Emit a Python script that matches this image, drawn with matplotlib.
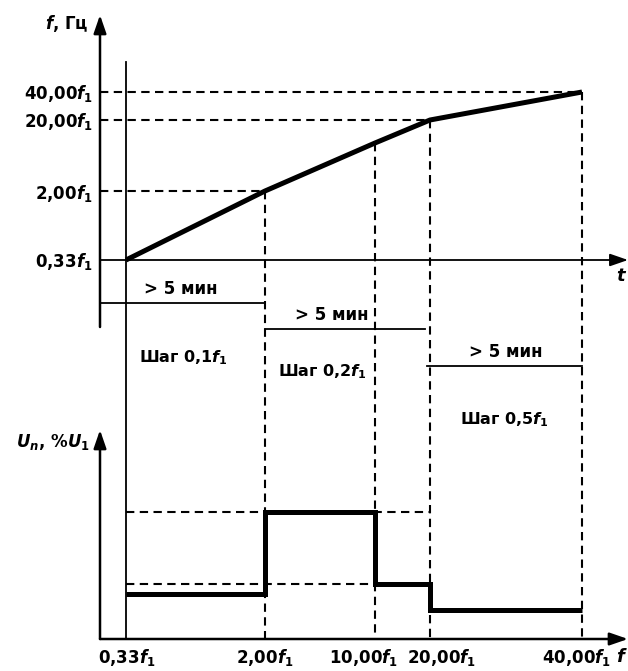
import matplotlib
matplotlib.use("Agg")
import matplotlib.pyplot as plt

plt.rcParams['font.family'] = ['DejaVu Sans']
plt.rcParams['font.weight'] = 'bold'
plt.rcParams['mathtext.fontset'] = 'custom'
plt.rcParams['mathtext.rm'] = 'DejaVu Sans:bold'
plt.rcParams['mathtext.it'] = 'DejaVu Sans:bold:italic'
plt.rcParams['mathtext.bf'] = 'DejaVu Sans:bold'

# ---------------- data (schematic units) ----------------
freq_labels = ['0,33', '2,00', '10,00', '20,00', '40,00']   # multiples of f1
freq_pos = [26, 165, 275, 330, 482]          # schematic position along t / f axis
top_levels = [0, 69, 117, 140, 168]          # ramp frequency level at each breakpoint
top_label_idx = [0, 1, 3, 4]                 # levels labelled on the f axis
step_levels = [45, 127, 55, 29]              # U_n level on each frequency interval
durations = ['> 5 мин', '> 5 мин', '> 5 мин']
step_texts = ['Шаг 0,1', 'Шаг 0,2', 'Шаг 0,5']

# ---------------- layout ----------------
W, H = 628, 671
AX_X, TOP_Y0 = 100, 260      # pixel origin of upper chart
BOT_OFF = -379               # lower chart baseline in upper-chart coordinates
FS = 12

fig = plt.figure(figsize=(W / 100, H / 100), dpi=100)
ax = fig.add_axes([0, 0, 1, 1])
ax.set_xlim(-AX_X, W - AX_X)
ax.set_ylim(TOP_Y0 - H, TOP_Y0)
ax.axis('off')

thick = 3.6
thin = 1.3
dlw = 1.5
dash = (0, (4, 2.6))

def arrow(x0, y0, x1, y1, lw=1.6):
    ax.annotate('', xy=(x1, y1), xytext=(x0, y0),
                arrowprops=dict(arrowstyle='-|>,head_length=1.1,head_width=0.38',
                                lw=lw, color='k', shrinkA=0, shrinkB=0))

def flab(v):
    return v + r'$\mathit{f}_{1}$'

# ---- upper chart ----
arrow(0, -67, 0, 245, lw=1.8)              # f axis
arrow(0, 0, W - AX_X, 0, lw=1.3)           # t axis
ax.text(-11, 236, r'$\mathit{f}$, Гц', ha='right', va='center', fontsize=FS)
ax.text(522, -16, r'$\mathit{t}$', ha='center', va='center', fontsize=FS + 1)

# thin vertical at start
ax.plot([freq_pos[0], freq_pos[0]], [198, BOT_OFF], color='k', lw=thin)

# ramp
ax.plot(freq_pos, top_levels, color='k', lw=thick, solid_capstyle='butt', solid_joinstyle='miter')

# dashed guides
for i in top_label_idx[1:]:
    ax.plot([0, freq_pos[i]], [top_levels[i], top_levels[i]], color='k', lw=dlw, linestyle=dash)
for i in range(1, 5):
    ax.plot([freq_pos[i], freq_pos[i]], [top_levels[i], BOT_OFF], color='k', lw=dlw, linestyle=dash)

for i in top_label_idx:
    ax.text(-7, top_levels[i] - 2, flab(freq_labels[i]), ha='right', va='center', fontsize=FS)

# duration bars
bars = [(0, freq_pos[1], -43), (freq_pos[1], freq_pos[3] - 5, -69), (freq_pos[3] - 3, freq_pos[4], -106)]
text_x = [81, 232, 406]
for (x0, x1, y), tx, lab in zip(bars, text_x, durations):
    ax.plot([x0, x1], [y, y], color='k', lw=thin)
    ax.text(tx, y + 5, lab, ha='center', va='bottom', fontsize=FS)

step_xy = [(39, -102), (178, -116), (360, -164)]
for (sx, sy), s in zip(step_xy, step_texts):
    ax.text(sx, sy, s + r'$\mathit{f}_{1}$', ha='left', va='baseline', fontsize=FS - 0.5)

# ---- lower chart ----
arrow(0, BOT_OFF, 0, BOT_OFF + 209, lw=1.8)
arrow(0, BOT_OFF, W - AX_X, BOT_OFF, lw=1.8)
ax.text(-10, -182, r'$\mathit{U}_{n}$, %$\mathit{U}_{1}$', ha='right', va='center', fontsize=FS)
ax.text(522, BOT_OFF - 18, r'$\mathit{f}$', ha='center', va='center', fontsize=FS + 1)

# dashed reference levels
ax.plot([freq_pos[0], freq_pos[3]], [BOT_OFF + step_levels[1]] * 2, color='k', lw=dlw, linestyle=dash)
ax.plot([freq_pos[0], freq_pos[2]], [BOT_OFF + step_levels[2]] * 2, color='k', lw=dlw, linestyle=dash)

# step curve
xs, ys = [], []
for i, lv in enumerate(step_levels):
    xs += [freq_pos[i], freq_pos[i + 1]]
    ys += [BOT_OFF + lv, BOT_OFF + lv]
ax.plot(xs, ys, color='k', lw=thick, solid_capstyle='butt', solid_joinstyle='miter')

label_dx = [1, 0, -11, 12, -5]
for p, lab, dx in zip(freq_pos, freq_labels, label_dx):
    ax.text(p + dx, BOT_OFF - 19, flab(lab), ha='center', va='center', fontsize=FS)

fig.savefig('out.png', dpi=100)
